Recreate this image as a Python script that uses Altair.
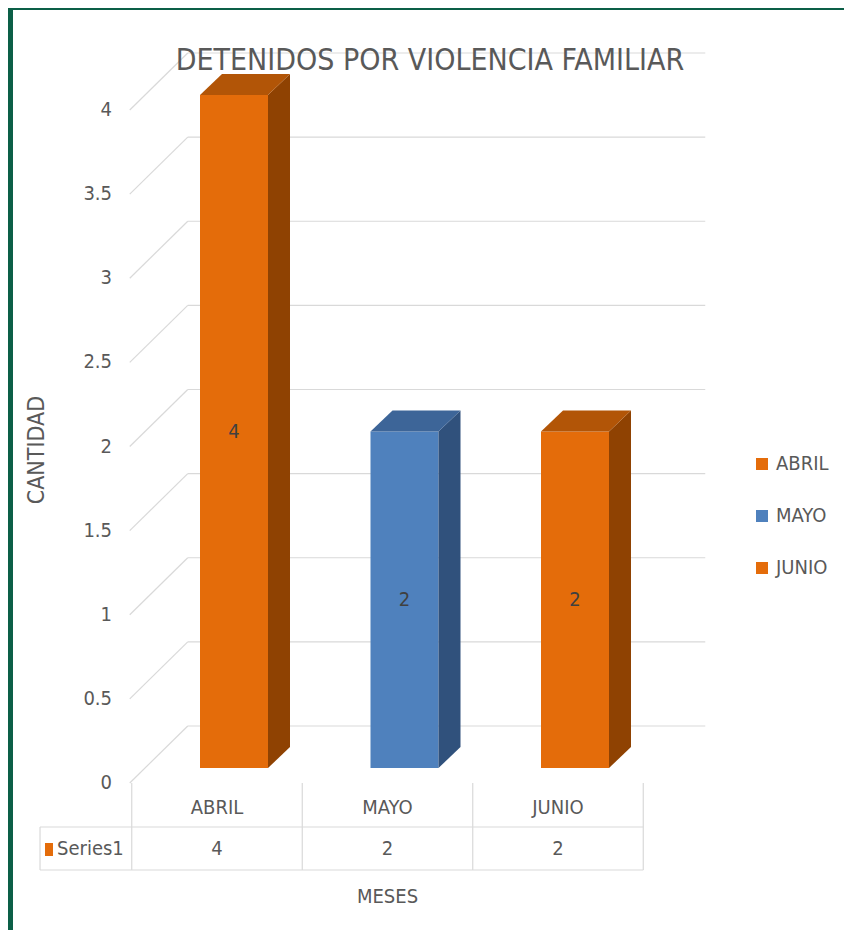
import altair as alt
import pandas as pd

# ---------------- data ----------------
MESES = ["ABRIL", "MAYO", "JUNIO"]
CANTIDAD = [4, 2, 2]
Y_TICKS = [0, 0.5, 1, 1.5, 2, 2.5, 3, 3.5, 4]
Y_TICK_LABELS = ["0", "0.5", "1", "1.5", "2", "2.5", "3", "3.5", "4"]
SERIE = "Series1"
TITULO = "DETENIDOS POR VIOLENCIA FAMILIAR"
X_TITLE = "MESES"
Y_TITLE = "CANTIDAD"

# ---------------- style ----------------
FONT = "Liberation Sans Narrow, DejaVu Sans Condensed, sans-serif"
TXT = "#595959"
GRID = "#D9D9D9"
FRONT = {"ABRIL": "#E46C0A", "MAYO": "#4F81BD", "JUNIO": "#E46C0A"}
TOP = {"ABRIL": "#B25507", "MAYO": "#3D6598", "JUNIO": "#B25507"}
SIDE = {"ABRIL": "#8F4202", "MAYO": "#30517C", "JUNIO": "#8F4202"}

W, H = 831, 920
PXX, PXY = 170.5, 168.25          # pixels per category / per value unit
X_DOM = [-204 / PXX, -204 / PXX + W / PXX]
Y_DOM = [-147 / PXY, -147 / PXY + H / PXY]


def ux(p):
    return p / PXX


def uy(p):
    return p / PXY


BX, BW, BY = 17, 34, 15           # bar front shift / half width / lift (px)
DX, DY = 22, 21                   # bar depth (px)
WX, WY = 58, 57                   # back wall depth (px)

xs = alt.Scale(domain=X_DOM, nice=False, zero=False)
ys = alt.Scale(domain=Y_DOM, nice=False, zero=False)


def X(f):
    return alt.X(f, type="quantitative", scale=xs, axis=None)


def Y(f):
    return alt.Y(f, type="quantitative", scale=ys, axis=None, stack=None)


# ---------------- derived tables ----------------
grid_rows = []
for v in Y_TICKS:
    x0 = -0.5 - ux(2)
    grid_rows.append({"x": x0, "x2": x0 + ux(WX), "y": v, "y2": v + uy(WY)})
    grid_rows.append({"x": x0 + ux(WX), "x2": 2.5 + ux(WX + 4), "y": v + uy(WY), "y2": v + uy(WY)})
grid = pd.DataFrame(grid_rows)
ticklab = pd.DataFrame({"x": -0.6158, "y": Y_TICKS, "t": Y_TICK_LABELS})

front_rows, area_rows, lab_rows = [], [], []
for i, (m, v) in enumerate(zip(MESES, CANTIDAD)):
    xl, xr = i + ux(BX - BW), i + ux(BX + BW)
    b0, t0 = uy(BY), v + uy(BY)
    front_rows.append({"mes": m, "x": xl, "x2": xr, "y": b0, "y2": t0})
    # side face
    area_rows.append({"g": m + "s", "fill": SIDE[m], "x": xr, "top": t0, "bot": b0})
    area_rows.append({"g": m + "s", "fill": SIDE[m], "x": xr + ux(DX), "top": t0 + uy(DY), "bot": b0 + uy(DY)})
    # top face
    for xx, tt, bb in [(xl, t0, t0), (xl + ux(DX), t0 + uy(DY), t0),
                       (xr, t0 + uy(DY), t0), (xr + ux(DX), t0 + uy(DY), t0 + uy(DY))]:
        area_rows.append({"g": m + "t", "fill": TOP[m], "x": xx, "top": tt, "bot": bb})
    lab_rows.append({"x": i + ux(BX), "y": v / 2 + uy(BY), "t": str(v)})
front = pd.DataFrame(front_rows)
faces = pd.DataFrame(area_rows)
labels = pd.DataFrame(lab_rows)

# data table below the chart
tbl_lines = pd.DataFrame(
    [{"x": c, "x2": c, "y": 0.0, "y2": -0.517} for c in [-0.5, 0.5, 1.5, 2.5]]
    + [{"x": -1.038, "x2": -1.038, "y": -0.2615, "y2": -0.517},
       {"x": -1.038, "x2": 2.5, "y": -0.2615, "y2": -0.2615},
       {"x": -1.038, "x2": 2.5, "y": -0.517, "y2": -0.517}]
)
tbl_cat = pd.DataFrame({"x": list(range(len(MESES))), "y": -0.1486, "t": MESES})
tbl_val = pd.DataFrame({"x": list(range(len(MESES))), "y": -0.3923, "t": [str(v) for v in CANTIDAD]})
tbl_key = pd.DataFrame({"x": [-1.0088], "x2": [-0.9619], "y": [-0.3566], "y2": [-0.4339]})
tbl_ser = pd.DataFrame({"x": [-0.9384], "y": [-0.3923], "t": [SERIE]})

titles = pd.DataFrame({"x": [1.249], "y": [4.238], "t": [TITULO]})
xtitle = pd.DataFrame({"x": [1.0], "y": [-0.6776], "t": [X_TITLE]})
ytitle = pd.DataFrame({"x": [-1.0557], "y": [1.979], "t": [Y_TITLE]})

# ---------------- layers ----------------
grid_l = alt.Chart(grid).mark_rule(color=GRID, strokeWidth=1.2).encode(
    x=X("x"), x2="x2", y=Y("y"), y2="y2")

tick_l = alt.Chart(ticklab).mark_text(font=FONT, fontSize=20, color=TXT, align="right").encode(
    x=X("x"), y=Y("y"), text="t:N")

front_l = alt.Chart(front).mark_rect().encode(
    x=X("x"), x2="x2", y=Y("y"), y2="y2",
    color=alt.Color("mes:N",
                    scale=alt.Scale(domain=MESES, range=[FRONT[m] for m in MESES]),
                    legend=alt.Legend(title=None, orient="none", legendX=739, legendY=444,
                                      symbolType="square", symbolSize=144, symbolStrokeWidth=0,
                                      labelFont=FONT, labelFontSize=20, labelColor=TXT,
                                      labelOffset=4, rowPadding=32, padding=0)))

faces_l = alt.Chart(faces).mark_area(interpolate="linear").encode(
    x=X("x"), y=Y("top"), y2="bot",
    fill=alt.Fill("fill:N", scale=None), detail="g:N")

lab_l = alt.Chart(labels).mark_text(font=FONT, fontSize=20, color="#404040").encode(
    x=X("x"), y=Y("y"), text="t:N")

tl_l = alt.Chart(tbl_lines).mark_rule(color=GRID, strokeWidth=1.2).encode(
    x=X("x"), x2="x2", y=Y("y"), y2="y2")
tc_l = alt.Chart(tbl_cat).mark_text(font=FONT, fontSize=20, color=TXT).encode(
    x=X("x"), y=Y("y"), text="t:N")
tv_l = alt.Chart(tbl_val).mark_text(font=FONT, fontSize=20, color=TXT).encode(
    x=X("x"), y=Y("y"), text="t:N")
tk_l = alt.Chart(tbl_key).mark_rect(color=FRONT["ABRIL"]).encode(
    x=X("x"), x2="x2", y=Y("y"), y2="y2")
ts_l = alt.Chart(tbl_ser).mark_text(font=FONT, fontSize=20, color=TXT, align="left").encode(
    x=X("x"), y=Y("y"), text="t:N")

title_l = alt.Chart(titles).mark_text(font=FONT, fontSize=30, color=TXT, baseline="alphabetic").encode(
    x=X("x"), y=Y("y"), text="t:N")
xt_l = alt.Chart(xtitle).mark_text(font=FONT, fontSize=20, color=TXT).encode(
    x=X("x"), y=Y("y"), text="t:N")
yt_l = alt.Chart(ytitle).mark_text(font=FONT, fontSize=23, color=TXT, angle=270).encode(
    x=X("x"), y=Y("y"), text="t:N")

chart = alt.layer(
    grid_l, tick_l, title_l, front_l, faces_l, lab_l, tl_l, tc_l, tv_l, tk_l, ts_l, xt_l, yt_l
).properties(
    width=W, height=H,
    padding={"left": 5, "top": 2, "right": 0, "bottom": 0},
    autosize=alt.AutoSizeParams(type="none"),
    background="#0C5F47",
).configure_view(stroke=None, fill="white")

chart.save("out.html", embed_options={"renderer": "svg", "actions": False})
